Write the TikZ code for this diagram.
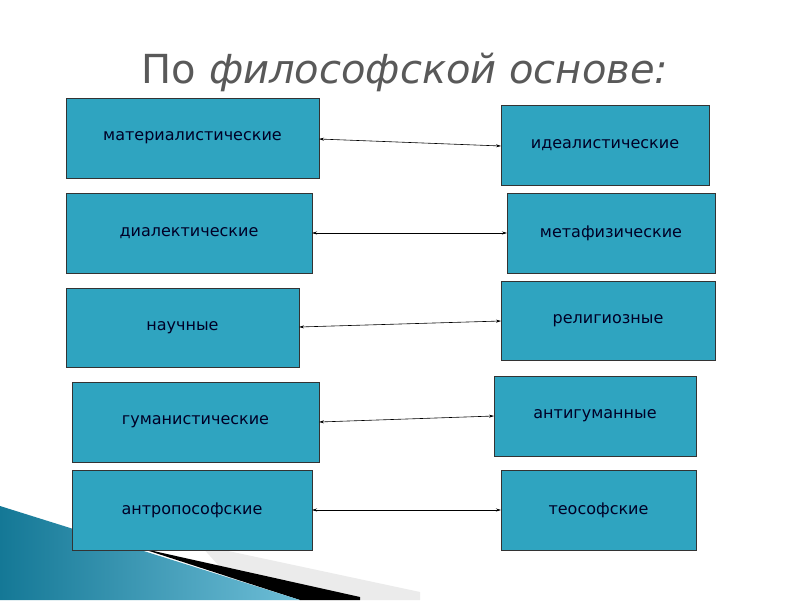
\documentclass[tikz,border=0pt]{standalone}
\usepackage{fontspec}
\setmainfont{DejaVu Sans}
\begin{document}
\begin{tikzpicture}[x=1pt,y=-1pt,
  box/.style={draw=black!80,line width=0.8pt,fill=boxc,inner sep=0pt},
  lab/.style={font=\fontsize{16}{18}\selectfont,text=black!85!blue},
  conn/.style={<->,>={Stealth[length=5pt,width=3pt]},line width=0.6pt}]
\definecolor{boxc}{RGB}{47,164,192}
\definecolor{tealdark}{RGB}{20,120,150}
\definecolor{teallight}{RGB}{110,190,215}
\usetikzlibrary{arrows.meta}
\useasboundingbox (0,0) rectangle (800,600);
\fill[white] (0,0) rectangle (800,600);
% decorative swoosh
\fill[black!8] (200,545) -- (420,592) -- (420,600) -- (250,600) -- cycle;
\fill[black] (140,548) -- (360,597) -- (360,600) -- (300,600) -- cycle;
\shade[left color=tealdark,right color=teallight] (0,506) -- (300,600) -- (0,600) -- cycle;
% title
\node[text=black!65,font=\fontsize{40}{44}\selectfont] (title) at (405,72) {По \textit{философской основе:}};
% boxes
\newcommand\bx[6]{\draw[box] (#2,#3) rectangle (#4,#5);
  \node[lab,anchor=center] (#1) at ({(#2+#4)/2},{(#3+#5)/2}) {#6};
  \coordinate (#1w) at (#2,{(#3+#5)/2}); \coordinate (#1e) at (#4,{(#3+#5)/2});}
\bx{l1}{66}{98}{319}{178}{материалистические}
\bx{r1}{501}{105}{709}{185}{идеалистические}
\bx{l2}{66}{193}{312}{273}{диалектические}
\bx{r2}{507}{193}{715}{273}{метафизические}
\bx{l3}{66}{288}{299}{367}{научные}
\bx{r3}{501}{281}{715}{360}{религиозные}
\bx{l4}{72}{382}{319}{462}{гуманистические}
\bx{r4}{494}{376}{696}{456}{антигуманные}
\bx{l5}{72}{470}{312}{550}{антропософские}
\bx{r5}{501}{470}{696}{550}{теософские}
\coordinate (a1) at (319,139); \coordinate (b1) at (501,146);
\draw[conn] (a1) -- (b1);
\draw[conn] (l2e) -- (r2w);
\coordinate (a3) at (299,327); \coordinate (b3) at (501,321);
\draw[conn] (a3) -- (b3);
\coordinate (a4) at (319,422); \coordinate (b4) at (494,416);
\draw[conn] (a4) -- (b4);
\draw[conn] (l5e) -- (r5w);
\end{tikzpicture}
\end{document}
